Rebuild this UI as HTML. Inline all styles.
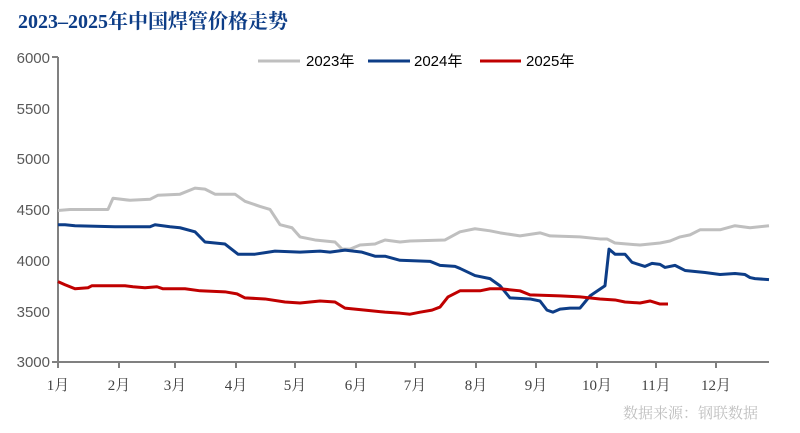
<!DOCTYPE html>
<html><head><meta charset="utf-8"><style>
body{margin:0;background:#fff;width:800px;height:428px;overflow:hidden}
.s{font-family:"Liberation Sans","Noto Sans CJK SC",sans-serif}
.r{font-family:"Liberation Serif","Noto Serif CJK SC",serif}
</style></head><body>
<svg width="800" height="428" xmlns="http://www.w3.org/2000/svg">
<text class="r" x="18" y="28" font-size="20" font-weight="bold" fill="#0d3d87">2023–2025年中国焊管价格走势</text>
<g class="s" font-size="15" fill="#595959" text-anchor="end">
<text x="50" y="63">6000</text><text x="50" y="114">5500</text><text x="50" y="164">5000</text><text x="50" y="215">4500</text><text x="50" y="266">4000</text><text x="50" y="317">3500</text><text x="50" y="367">3000</text>
</g>
<g stroke="#808080" stroke-width="2" fill="none">
<path d="M58 57V362H769"/>
<path d="M52 57H58M52 362H58"/>
<path d="M58 362v6M119 362v6M175 362v6M236 362v6M295 362v6M356 362v6M415 362v6M476 362v6M536 362v6M597 362v6M656 362v6M716 362v6"/>
</g>
<g class="r" font-size="15" fill="#404040" text-anchor="middle">
<text x="58" y="390">1月</text><text x="119" y="390">2月</text><text x="175" y="390">3月</text><text x="236" y="390">4月</text><text x="295" y="390">5月</text><text x="356" y="390">6月</text><text x="415" y="390">7月</text><text x="476" y="390">8月</text><text x="536" y="390">9月</text><text x="597" y="390">10月</text><text x="656" y="390">11月</text><text x="716" y="390">12月</text>
</g>
<g transform="translate(0,362) scale(1,-0.1017) translate(0,-3000)" fill="none" stroke-width="3" stroke-linejoin="round">
<polyline vector-effect="non-scaling-stroke" stroke="#bfbfbf" points="58,4490 70,4500 108,4500 113,4610 130,4590 150,4600 158,4640 180,4650 195,4710 205,4700 215,4650 235,4650 245,4580 260,4530 270,4500 280,4350 292,4320 300,4230 315,4200 335,4180 342,4110 350,4110 360,4150 375,4160 385,4200 400,4180 410,4190 445,4200 460,4280 475,4310 490,4290 500,4270 520,4240 540,4270 550,4240 580,4230 600,4210 607,4210 615,4170 640,4150 660,4170 670,4190 680,4230 690,4250 700,4300 720,4300 735,4340 750,4320 769,4340"/>
<polyline vector-effect="non-scaling-stroke" stroke="#0d3d87" points="58,4350 65,4350 75,4340 115,4330 150,4330 155,4350 170,4330 180,4320 195,4280 205,4180 225,4160 238,4060 255,4060 275,4090 300,4080 320,4090 330,4080 345,4100 362,4080 375,4040 385,4040 400,4000 430,3990 440,3950 455,3940 460,3920 475,3850 490,3820 500,3750 510,3630 530,3620 540,3600 547,3510 553,3490 560,3520 570,3530 580,3530 585,3590 590,3650 605,3750 609,4110 615,4060 625,4060 632,3980 645,3940 652,3970 660,3960 665,3930 675,3950 685,3900 705,3880 720,3860 735,3870 745,3860 750,3830 755,3820 769,3810"/>
<polyline vector-effect="non-scaling-stroke" stroke="#c00000" points="58,3790 65,3760 75,3720 88,3730 92,3750 125,3750 133,3740 145,3730 157,3740 163,3720 185,3720 200,3700 225,3690 237,3670 245,3630 265,3620 285,3590 300,3580 320,3600 335,3590 345,3530 365,3510 385,3490 400,3480 410,3470 420,3490 432,3510 440,3540 448,3640 460,3700 480,3700 490,3720 500,3720 520,3700 530,3660 560,3650 580,3640 600,3620 615,3610 625,3590 640,3580 650,3600 660,3570 668,3570"/>
</g>
<g stroke-width="3">
<line x1="258" y1="61" x2="300" y2="61" stroke="#bfbfbf"/>
<line x1="368" y1="61" x2="410" y2="61" stroke="#0d3d87"/>
<line x1="480" y1="61" x2="521" y2="61" stroke="#c00000"/>
</g>
<g class="s" font-size="15" fill="#000">
<text x="306" y="66">2023年</text><text x="414" y="66">2024年</text><text x="526" y="66">2025年</text>
</g>
<text class="r" x="758" y="418" font-size="15" fill="#bfbfbf" text-anchor="end">数据来源：钢联数据</text>
</svg>
</body></html>
